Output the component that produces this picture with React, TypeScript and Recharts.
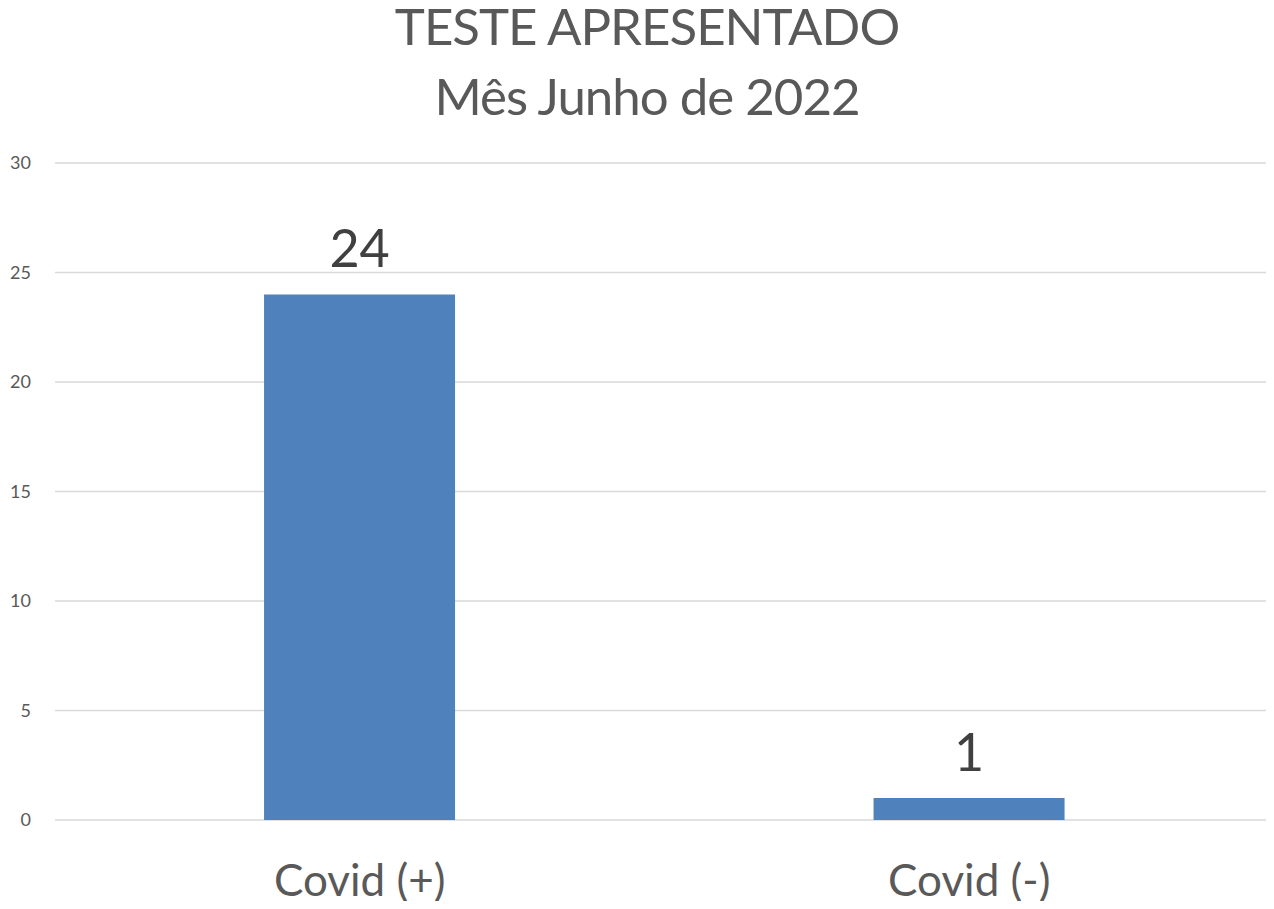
import { BarChart, Bar, XAxis, YAxis, CartesianGrid, LabelList } from "recharts";

const categories = ["Covid (+)", "Covid (-)"];
const testes = [24, 1];
const yTicks = [0, 5, 10, 15, 20, 25, 30];
const titleLines = ["TESTE APRESENTADO", "Mês Junho de 2022"];

const data = categories.map((name, i) => ({ name, testes: testes[i] }));

const FONT = "Lato, 'Open Sans', sans-serif";

// value above each bar, placed from the bar geometry Recharts hands us
const ValueLabel = (props: any) => {
    const { x, y, width, value } = props;
    return (
        <text
            x={x + width / 2}
            y={y - 27}
            textAnchor="middle"
            fontFamily={FONT}
            fontSize={52}
            fill="#404040"
        >
            {value}
        </text>
    );
};

export default function App() {
    return (
        <div style={{ position: "relative", width: 1274, height: 909, margin: -8, background: "#fff" }}>
            <svg
                width={1274}
                height={130}
                style={{ position: "absolute", top: 0, left: 0, zIndex: 1 }}
            >
                {titleLines.map((line, i) => (
                    <text
                        key={line}
                        x={647}
                        y={45 + i * 70}
                        textAnchor="middle"
                        fontFamily={FONT}
                        fontSize={51}
                        letterSpacing={-1}
                        fill="#595959"
                    >
                        {line}
                    </text>
                ))}
            </svg>
            <BarChart
                width={1274}
                height={909}
                data={data}
                margin={{ top: 163, right: 0, left: 0, bottom: 0 }}
                barCategoryGap="34.3%"
            >
                <CartesianGrid vertical={false} stroke="#d9d9d9" strokeWidth={1.5} />
                <XAxis
                    dataKey="name"
                    height={89}
                    axisLine={false}
                    tickLine={false}
                    tickSize={0}
                    tickMargin={45}
                    tick={{ fontFamily: FONT, fontSize: 44, fill: "#595959" }}
                />
                <YAxis
                    width={55}
                    domain={[0, 30]}
                    ticks={yTicks}
                    axisLine={false}
                    tickLine={false}
                    tickSize={0}
                    tickMargin={24}
                    tick={{ fontFamily: FONT, fontSize: 18, fill: "#595959" }}
                />
                <Bar dataKey="testes" fill="#4f81bd" isAnimationActive={false}>
                    <LabelList dataKey="testes" content={ValueLabel} />
                </Bar>
            </BarChart>
        </div>
    );
}
